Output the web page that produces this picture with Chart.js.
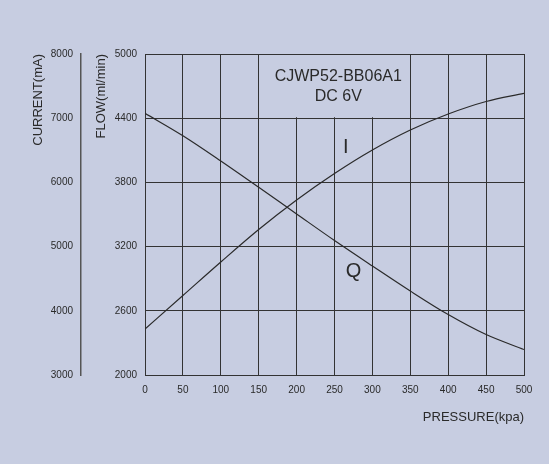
<!DOCTYPE html>
<html>
<head>
<meta charset="utf-8">
<script src="https://cdn.jsdelivr.net/npm/chart.js@4"></script>
<style>
  html, body { margin: 0; padding: 0; background: #c7cde1; }
  #wrap { width: 549px; height: 464px; }
</style>
</head>
<body>
<div id="wrap"><canvas id="pumpChart" width="549" height="464"></canvas></div>
<script>
// data
const pressure = [0, 50, 100, 150, 200, 250, 300, 350, 400, 450, 500];      // kpa
const flowQ    = [4446, 4236, 4000, 3754, 3505, 3257, 3019, 2785, 2565, 2378, 2238]; // ml/min
const currentI = [3717, 4238, 4760, 5266, 5726, 6139, 6505, 6816, 7065, 7260, 7388]; // mA

const flowTicks = [2000, 2600, 3200, 3800, 4400, 5000];
const currentTicks = [3000, 4000, 5000, 6000, 7000, 8000];

const BG = '#c7cde1';
const INK = '#2a2a2a';
const GRID = '#333333';
const tickFont = { family: "'Liberation Sans Narrow', 'Arial Narrow', Arial, sans-serif", size: 10 };
const titleFont = { family: "Arial, 'Liberation Sans', sans-serif", size: 13 };

// text written onto the sheet + blank title box in the top grid row
const sheetText = {
    id: 'sheetText',
    beforeDatasetsDraw(chart) {
        const { ctx, scales: { x, y } } = chart;
        const x1 = x.getPixelForValue(150), x2 = x.getPixelForValue(350);
        const y1 = y.getPixelForValue(5000), y2 = y.getPixelForValue(4400);
        ctx.save();
        ctx.fillStyle = BG;
        ctx.fillRect(x1 + 1, y1 + 1, x2 - x1 - 2, y2 - y1 - 2);
        ctx.restore();
    },
    afterDatasetsDraw(chart) {
        const { ctx, scales: { x } } = chart;
        ctx.save();
        ctx.fillStyle = INK;
        ctx.textAlign = 'center';
        ctx.textBaseline = 'middle';
        ctx.font = "16px Arial, 'Liberation Sans', sans-serif";
        const cx = x.getPixelForValue(255);
        ctx.fillText('CJWP52-BB06A1', cx, 77);
        ctx.fillText('DC 6V', cx, 97);
        ctx.font = "20px Arial, 'Liberation Sans', sans-serif";
        ctx.fillText('I', x.getPixelForValue(265), 147);
        ctx.fillText('Q', x.getPixelForValue(275), 271);
        ctx.restore();
    }
};

const plain = v => String(v);

new Chart(document.getElementById('pumpChart'), {
    type: 'line',
    data: {
        datasets: [
            {
                label: 'Q',
                data: pressure.map((p, i) => ({ x: p, y: flowQ[i] })),
                yAxisID: 'y',
                borderColor: INK,
                borderWidth: 1.2,
                pointRadius: 0,
                cubicInterpolationMode: 'monotone',
                fill: false
            },
            {
                label: 'I',
                data: pressure.map((p, i) => ({ x: p, y: currentI[i] })),
                yAxisID: 'y1',
                borderColor: INK,
                borderWidth: 1.2,
                pointRadius: 0,
                cubicInterpolationMode: 'monotone',
                fill: false
            }
        ]
    },
    options: {
        responsive: false,
        animation: false,
        devicePixelRatio: 1,
        layout: { padding: { left: 0, right: 25, top: 54, bottom: 0 } },
        plugins: {
            legend: { display: false },
            tooltip: { enabled: false }
        },
        scales: {
            x: {
                type: 'linear',
                min: 0,
                max: 500,
                afterFit(scale) { scale.height = 89; },
                ticks: {
                    stepSize: 50,
                    autoSkip: false,
                    maxRotation: 0,
                    padding: 9,
                    color: INK,
                    font: tickFont,
                    callback: plain
                },
                grid: { color: GRID, lineWidth: 1, drawTicks: false },
                border: { color: GRID, width: 1 },
                title: {
                    display: true,
                    text: 'PRESSURE(kpa)',
                    align: 'end',
                    color: INK,
                    font: titleFont,
                    padding: { top: 0, bottom: 39 }
                }
            },
            y: {
                position: 'left',
                weight: 0,
                min: 2000,
                max: 5000,
                afterFit(scale) { scale.width = 64; },
                afterBuildTicks(scale) { scale.ticks = flowTicks.map(v => ({ value: v })); },
                ticks: { padding: 8, color: INK, font: tickFont, callback: plain },
                grid: { color: GRID, lineWidth: 1, drawTicks: false },
                border: { color: GRID, width: 1 },
                title: {
                    display: true,
                    text: 'FLOW(ml/min)',
                    align: 'end',
                    color: INK,
                    font: titleFont,
                    padding: { top: 13, bottom: 0 }
                }
            },
            y1: {
                position: 'left',
                weight: 1,
                min: 3000,
                max: 8000,
                afterFit(scale) { scale.width = 81; },
                afterBuildTicks(scale) { scale.ticks = currentTicks.map(v => ({ value: v })); },
                ticks: { padding: 8, color: INK, font: tickFont, callback: plain },
                grid: { display: false, drawTicks: false },
                border: { display: true, color: '#555', width: 1.5 },
                title: {
                    display: true,
                    text: 'CURRENT(mA)',
                    align: 'end',
                    color: INK,
                    font: titleFont,
                    padding: { top: 31, bottom: 0 }
                }
            }
        }
    },
    plugins: [sheetText]
});
</script>
</body>
</html>
